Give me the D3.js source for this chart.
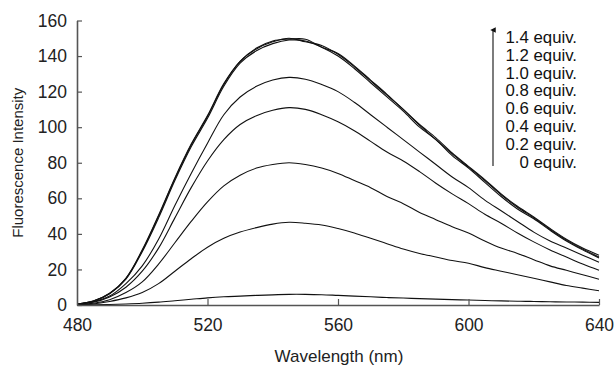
<!DOCTYPE html>
<html>
<head>
<meta charset="utf-8">
<script src="https://cdn.jsdelivr.net/npm/d3@7"></script>
<style>
  html, body { margin: 0; padding: 0; background: #fff; }
  svg { display: block; font-family: "Liberation Sans", Arial, sans-serif; }
</style>
</head>
<body>
<div id="chart"></div>
<script>
const WAVELENGTHS = d3.range(480, 641, 5);
const X_TICKS = [480, 520, 560, 600, 640];
const Y_TICKS = [0, 20, 40, 60, 80, 100, 120, 140, 160];
const LEGEND_LABELS = ["1.4 equiv.", "1.2 equiv.", "1.0 equiv.", "0.8 equiv.", "0.6 equiv.", "0.4 equiv.", "0.2 equiv.", "0 equiv."];

// intensity, every 5 nm from 480 to 640
const EQ_0 = [0, 0.1, 0.3, 0.6, 1, 1.6, 2.4, 3.2, 4, 4.6, 5, 5.4, 5.7, 6, 6, 5.8, 5.4, 5, 4.6, 4.2, 3.9, 3.6, 3.3, 3, 2.8, 2.5, 2.3, 2.1, 2, 1.8, 1.7, 1.6, 1.5];
const EQ_02 = [0.2, 0.6, 2, 4, 7, 12, 19, 26, 32.5, 37.5, 41, 43.5, 45.5, 46.5, 46, 45, 43, 40.5, 37.5, 34.5, 31.5, 29, 27, 25, 23.5, 21, 19, 17, 15, 13, 11, 9.5, 8];
const EQ_04 = [0.3, 1, 3, 7, 13, 23, 35, 47, 58, 67, 73, 77, 79, 80, 79, 77, 74, 70, 66, 61, 57, 52, 48, 44, 40.5, 36, 32, 29, 25.5, 22, 19.5, 17, 14.5];
const EQ_06 = [0.4, 1.5, 4.5, 10, 19, 32, 49, 66, 81, 93, 101.5, 106.5, 109.5, 111, 110, 107, 103, 98, 92, 86, 81, 75, 68.5, 62.5, 57, 51, 46, 40.5, 35.5, 31, 27, 23, 19.5];
const EQ_08 = [0.5, 1.8, 5, 12, 22, 37, 56, 74, 91, 107, 117, 123, 126.5, 128, 127, 124, 120, 114, 107, 100, 93, 86, 79, 72, 66, 59, 53, 47, 41, 36, 32, 28, 24];
const EQ_10 = [0.5, 2.1, 6.3, 14.5, 30, 49, 70, 89, 105, 123, 136, 143, 147, 149, 148.5, 145, 140, 133, 125, 117, 109, 100, 93, 84, 77, 69, 61, 54, 48.5, 42, 36, 31, 26.5];
const EQ_12 = [0.5, 2.2, 6.5, 15, 30.5, 50, 71, 90, 106, 124, 137, 144, 148, 150, 148, 146, 141, 134, 126, 118, 110, 101, 93, 85, 77.5, 70, 62, 55, 49, 42.5, 36.5, 31.5, 27];
const EQ_14 = [0.5, 2.2, 6.6, 15, 31, 50.5, 71.5, 90.5, 106.5, 124.5, 137, 144.5, 148.5, 149.5, 149.5, 145, 141.5, 134.5, 126.5, 118.5, 110, 101.5, 94, 85.5, 78, 70.5, 62.5, 55.5, 49.5, 43, 37, 32, 28];

const SERIES = [EQ_0, EQ_02, EQ_04, EQ_06, EQ_08, EQ_10, EQ_12, EQ_14];

const width = 616;
const height = 368;

const x = d3.scaleLinear().domain([480, 640]).range([77, 599]);
const y = d3.scaleLinear().domain([0, 160]).range([305, 20.5]);

const svg = d3.select("#chart")
  .append("svg")
  .attr("width", width)
  .attr("height", height);

const line = d3.line()
  .x((d, i) => x(WAVELENGTHS[i]))
  .y((d) => y(d))
  .curve(d3.curveCatmullRom.alpha(0.5));

svg.append("g")
  .attr("fill", "none")
  .attr("stroke", "#111")
  .attr("stroke-width", 1.1)
  .attr("stroke-linejoin", "round")
  .selectAll("path")
  .data(SERIES)
  .join("path")
  .attr("d", line);

const axisColor = "#555";
const tickFont = 17.5;

svg.append("g")
  .attr("transform", `translate(0,${y(0)})`)
  .call(d3.axisBottom(x).tickValues(X_TICKS).tickSizeInner(-6).tickSizeOuter(0).tickPadding(14))
  .call((g) => g.select(".domain").attr("stroke", axisColor).attr("stroke-width", 1.6))
  .call((g) => g.selectAll(".tick line").attr("stroke", axisColor).attr("stroke-width", 1.2))
  .call((g) => g.selectAll(".tick").filter((d) => d === 480).select("line").remove())
  .call((g) => g.selectAll(".tick text")
    .attr("font-size", tickFont)
    .attr("fill", "#222")
    .attr("font-family", "Liberation Sans, Arial, sans-serif"));

svg.append("g")
  .attr("transform", `translate(${x(480)},0)`)
  .call(d3.axisLeft(y).tickValues(Y_TICKS).tickSizeInner(-5).tickSizeOuter(0).tickPadding(10))
  .call((g) => g.select(".domain").attr("stroke", axisColor).attr("stroke-width", 1.6))
  .call((g) => g.selectAll(".tick line").attr("stroke", axisColor).attr("stroke-width", 1.2))
  .call((g) => g.selectAll(".tick text")
    .attr("font-size", tickFont)
    .attr("fill", "#222")
    .attr("font-family", "Liberation Sans, Arial, sans-serif"));

svg.append("text")
  .attr("transform", `translate(23,${(y(0) + y(160)) / 2}) rotate(-90)`)
  .attr("text-anchor", "middle")
  .attr("font-size", 15)
  .attr("fill", "#222")
  .text("Fluorescence Intensity");

svg.append("text")
  .attr("x", 339)
  .attr("y", 362)
  .attr("text-anchor", "middle")
  .attr("font-size", 17)
  .attr("fill", "#222")
  .text("Wavelength (nm)");

// legend with arrow
const legend = svg.append("g");
legend.append("defs")
  .append("marker")
  .attr("id", "arrow")
  .attr("viewBox", "0 0 10 10")
  .attr("refX", 5)
  .attr("refY", 5)
  .attr("markerWidth", 5)
  .attr("markerHeight", 7)
  .attr("orient", "auto")
  .append("path")
  .attr("d", "M0,10L5,0L10,10Z")
  .attr("fill", "#111");

legend.append("line")
  .attr("x1", 493).attr("x2", 493)
  .attr("y1", 166).attr("y2", 30)
  .attr("stroke", "#111")
  .attr("stroke-width", 1.1)
  .attr("marker-end", "url(#arrow)");

legend.selectAll("text")
  .data(LEGEND_LABELS)
  .join("text")
  .attr("x", 577)
  .attr("y", (d, i) => 37 + i * 17.85)
  .attr("dy", "0.35em")
  .attr("text-anchor", "end")
  .attr("font-size", 16.8)
  .attr("fill", "#111")
  .text((d) => d);
</script>
</body>
</html>
